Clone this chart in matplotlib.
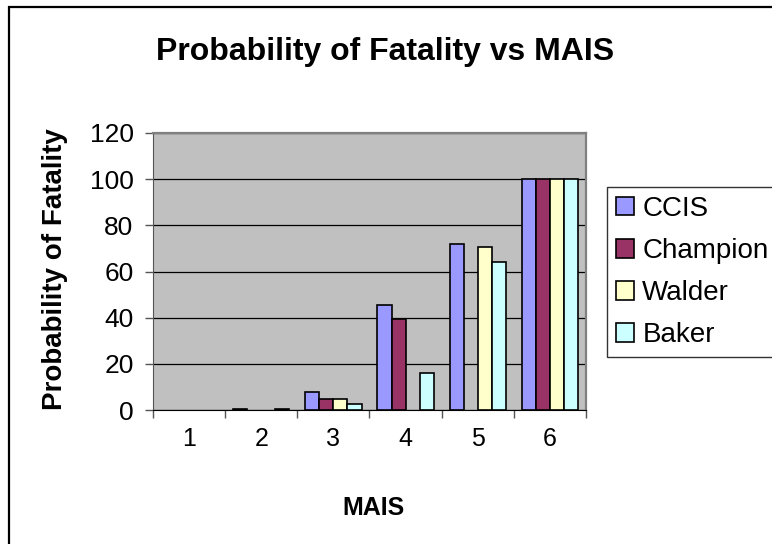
import numpy as np
import matplotlib
matplotlib.use("Agg")
import matplotlib.pyplot as plt
from matplotlib.patches import Rectangle

plt.rcParams['font.family'] = ['Liberation Sans', 'DejaVu Sans']

# data (nan = no bar drawn)
mais = [1, 2, 3, 4, 5, 6]
series = ['CCIS', 'Champion', 'Walder', 'Baker']
ccis = [np.nan, 0.6, 8, 45.5, 72, 100]
champion = [np.nan, np.nan, 4.8, 39.6, np.nan, 100]
walder = [np.nan, np.nan, 4.8, np.nan, 70.7, 100]
baker = [np.nan, 0.5, 2.7, 16, 64, 100]
colors = ['#9999FF', '#993366', '#FFFFCC', '#CCFFFF']

fig = plt.figure(figsize=(7.72, 5.44), dpi=100)
fig.patch.set_facecolor('white')

# outer chart frame (only top and left edges fall inside the picture)
fig.patches.append(Rectangle((9 / 772, -0.2), 1.5, 1.2 - 7 / 544, transform=fig.transFigure,
                             fill=False, edgecolor='black', linewidth=1.6))

ax = fig.add_axes([153 / 772, 1 - 410 / 544, (586 - 153) / 772, (410 - 133) / 544])
ax.set_facecolor('#C0C0C0')

x = np.arange(len(mais))
w = 0.195
for i, (vals, c, name) in enumerate(zip([ccis, champion, walder, baker], colors, series)):
    ax.bar(x + (i - 1.5) * w, vals, w, color=c, edgecolor='black', linewidth=1.2,
           label=name, zorder=3)

ax.set_xlim(-0.5, len(mais) - 0.5)
ax.set_ylim(0, 120)
ax.set_yticks(np.arange(0, 121, 20))
ax.yaxis.grid(True, color='black', linewidth=0.9, zorder=1)
ax.set_axisbelow(True)

ax.set_xticks(np.arange(-0.5, len(mais), 1))
ax.set_xticklabels([])
ax.set_xticks(x, minor=True)
ax.set_xticklabels([str(m) for m in mais], minor=True)
ax.tick_params(axis='x', which='major', direction='out', length=6, width=1, color='#555555')
ax.tick_params(axis='x', which='minor', length=0, pad=12, labelsize=18)
ax.tick_params(axis='y', direction='out', length=6, width=1, color='#555555',
               pad=8, labelsize=19)

for s in ['top', 'right']:
    ax.spines[s].set_color('#808080')
    ax.spines[s].set_linewidth(1.6)
ax.spines['left'].set_color('#555555')
ax.spines['bottom'].set_color('black')

fig.text(385 / 772, 1 - 52 / 544, 'Probability of Fatality vs MAIS', ha='center', va='center',
         fontsize=23, fontweight='bold')
fig.text(55 / 772, 1 - 269 / 544, 'Probability of Fatality', ha='center', va='center',
         rotation=90, fontsize=20, fontweight='bold')
fig.text(373 / 772, 1 - 508 / 544, 'MAIS', ha='center', va='center',
         fontsize=18, fontweight='bold')

leg = fig.legend(loc='upper left', bbox_to_anchor=(607 / 772, 1 - 187 / 544), fontsize=20,
                 frameon=True, fancybox=False, edgecolor='black', borderpad=0.32,
                 labelspacing=0.58, handlelength=0.65, handleheight=0.65, handletextpad=0.3,
                 borderaxespad=0)
leg.get_frame().set_linewidth(1.0)

fig.savefig('out.png', dpi=100)
